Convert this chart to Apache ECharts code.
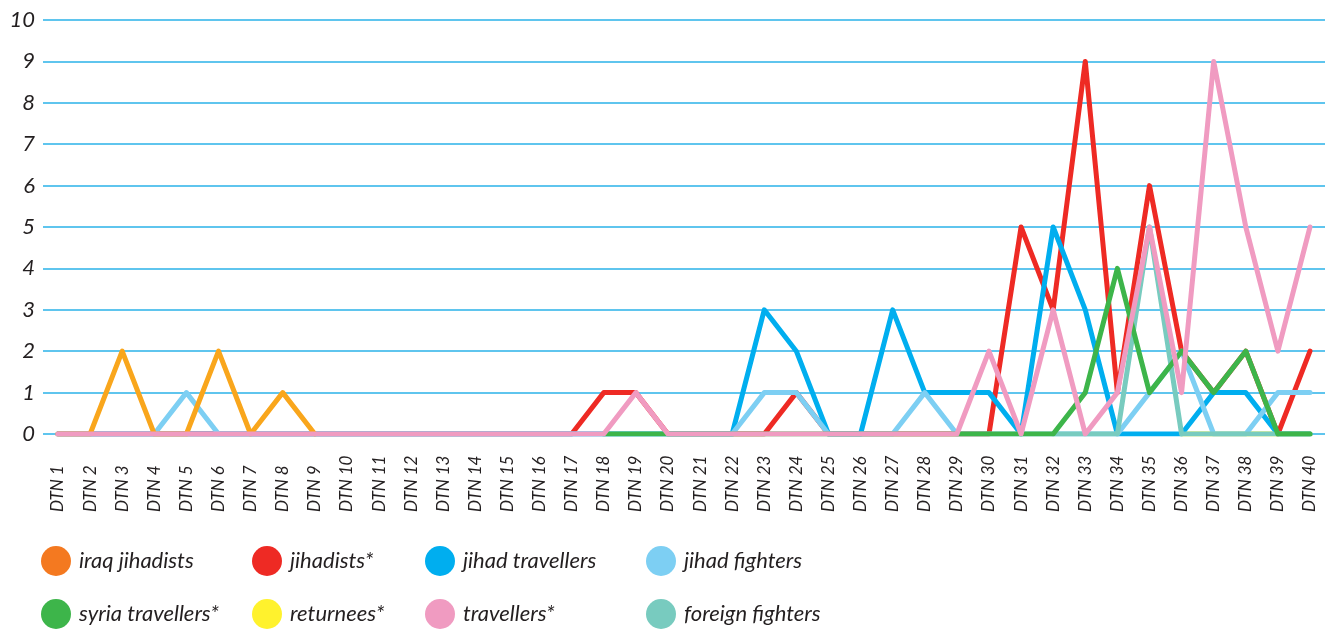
<!DOCTYPE html>
<html>
<head>
<meta charset="utf-8">
<script src="https://cdn.jsdelivr.net/npm/echarts@6/dist/echarts.min.js"></script>
<style>
  html, body { margin: 0; padding: 0; background: #fff; }
  #chart { width: 1333px; height: 629px; }
</style>
</head>
<body>
<div id="chart"></div>
<script>
// categories
var categories = ['DTN 1','DTN 2','DTN 3','DTN 4','DTN 5','DTN 6','DTN 7','DTN 8','DTN 9','DTN 10',
  'DTN 11','DTN 12','DTN 13','DTN 14','DTN 15','DTN 16','DTN 17','DTN 18','DTN 19','DTN 20',
  'DTN 21','DTN 22','DTN 23','DTN 24','DTN 25','DTN 26','DTN 27','DTN 28','DTN 29','DTN 30',
  'DTN 31','DTN 32','DTN 33','DTN 34','DTN 35','DTN 36','DTN 37','DTN 38','DTN 39','DTN 40'];

var yTicks = [0, 1, 2, 3, 4, 5, 6, 7, 8, 9, 10];

// series values (null = no value)
var iraqJihadists = [0,0,2,0,0,2,0,1,0,null, null,null,null,null,null,null,null,null,null,null,
  null,null,null,null,null,null,null,null,null,null, null,null,null,null,null,null,null,null,null,null];
var jihadists = [0,0,0,0,0,0,0,0,0,0, 0,0,0,0,0,0,0,1,1,0, 0,0,0,1,0,0,0,0,0,0, 5,3,9,1,6,2,1,2,0,2];
var jihadTravellers = [0,0,0,0,0,0,0,0,0,0, 0,0,0,0,0,0,0,0,0,0, 0,0,3,2,0,0,3,1,1,1, 0,5,3,0,0,0,1,1,0,0];
var jihadFighters = [0,0,0,0,1,0,0,0,0,0, 0,0,0,0,0,0,0,0,0,0, 0,0,1,1,0,0,0,1,0,0, 0,0,0,0,1,2,0,0,1,1];
var syriaTravellers = [null,null,null,null,null,null,null,null,null,null, null,null,null,null,null,null,null,0,0,0,
  0,0,0,0,0,0,0,0,0,0, 0,0,1,4,1,2,1,2,0,0];
var returnees = [null,null,null,null,null,null,null,null,null,null, null,null,null,null,null,null,null,null,null,null,
  null,null,null,null,null,null,null,null,null,null, null,null,null,null,null,0,0,0,0,0];
var travellers = [0,0,0,0,0,0,0,0,0,0, 0,0,0,0,0,0,0,0,1,0, 0,0,0,0,0,0,0,0,0,2, 0,3,0,1,5,1,9,5,2,5];
var foreignFighters = [null,null,null,null,null,null,null,null,null,null, null,null,null,null,null,null,null,null,null,null,
  null,null,null,null,null,null,null,null,null,null, null,0,0,0,5,0,0,0,0,0];

var FONT = 'Lato';
var TEXT = '#231f20';
var GRID_BLUE = '#2ab2e8';

// legend entries: name, icon colour, position
var legendItems = [
  { name: 'iraq jihadists', color: '#f47920', left: 41, top: 546 },
  { name: 'jihadists*', color: '#ee2a24', left: 252, top: 546 },
  { name: 'jihad travellers', color: '#00aeef', left: 425, top: 546 },
  { name: 'jihad fighters', color: '#7dcff3', left: 646, top: 546 },
  { name: 'syria travellers*', color: '#3db54a', left: 41, top: 599 },
  { name: 'returnees*', color: '#fff22d', left: 252, top: 599 },
  { name: 'travellers*', color: '#f09bc1', left: 425, top: 599 },
  { name: 'foreign fighters', color: '#78cbbf', left: 646, top: 599 }
];

function lineSeries(name, color, data) {
  return {
    name: name,
    type: 'line',
    xAxisIndex: 0,
    yAxisIndex: 0,
    data: data,
    color: color,
    showSymbol: false,
    symbol: 'none',
    connectNulls: false,
    lineStyle: { color: color, width: 5, cap: 'round', join: 'round' }
  };
}

var chart = echarts.init(document.getElementById('chart'));

chart.setOption({
  animation: false,
  backgroundColor: '#fff',
  grid: [
    { left: 58, right: 23, top: 20, bottom: 195 },
    { left: 43, right: 8, top: 20, bottom: 195 }
  ],
  legend: legendItems.map(function (it) {
    return {
      data: [{ name: it.name, itemStyle: { color: it.color, borderWidth: 0 } }],
      left: it.left,
      top: it.top,
      padding: 0,
      icon: 'circle',
      itemWidth: 30,
      itemHeight: 30,
      selectedMode: false,
      textStyle: {
        fontFamily: FONT,
        fontStyle: 'italic',
        fontSize: 22,
        color: TEXT,
        padding: [0, 0, 0, 3]
      }
    };
  }),
  xAxis: [
    {
      type: 'category',
      gridIndex: 0,
      data: categories,
      boundaryGap: false,
      axisLine: { show: false },
      axisTick: { show: false },
      splitLine: { show: false },
      axisLabel: {
        interval: 0,
        rotate: 90,
        align: 'left',
        margin: 78,
        fontFamily: FONT,
        fontStyle: 'italic',
        fontSize: 17,
        color: TEXT
      }
    },
    {
      type: 'value',
      gridIndex: 1,
      show: false
    }
  ],
  yAxis: [
    {
      type: 'value',
      gridIndex: 0,
      min: yTicks[0],
      max: yTicks[yTicks.length - 1],
      interval: 1,
      show: false
    },
    {
      type: 'value',
      gridIndex: 1,
      min: yTicks[0],
      max: yTicks[yTicks.length - 1],
      interval: 1,
      axisLine: { show: false },
      axisTick: { show: false },
      splitLine: { show: true, lineStyle: { color: GRID_BLUE, width: 1.5 } },
      axisLabel: {
        margin: 8,
        fontFamily: FONT,
        fontStyle: 'italic',
        fontSize: 22,
        color: TEXT
      }
    }
  ],
  // order = drawing order, later on top
  series: [
    lineSeries('returnees*', '#fff22d', returnees),
    lineSeries('jihadists*', '#ee2a24', jihadists),
    lineSeries('jihad travellers', '#00aeef', jihadTravellers),
    lineSeries('jihad fighters', '#7dcff3', jihadFighters),
    lineSeries('iraq jihadists', '#f9a61c', iraqJihadists),
    lineSeries('foreign fighters', '#78cbbf', foreignFighters),
    lineSeries('syria travellers*', '#3db54a', syriaTravellers),
    lineSeries('travellers*', '#f09bc1', travellers)
  ]
});
</script>
</body>
</html>
